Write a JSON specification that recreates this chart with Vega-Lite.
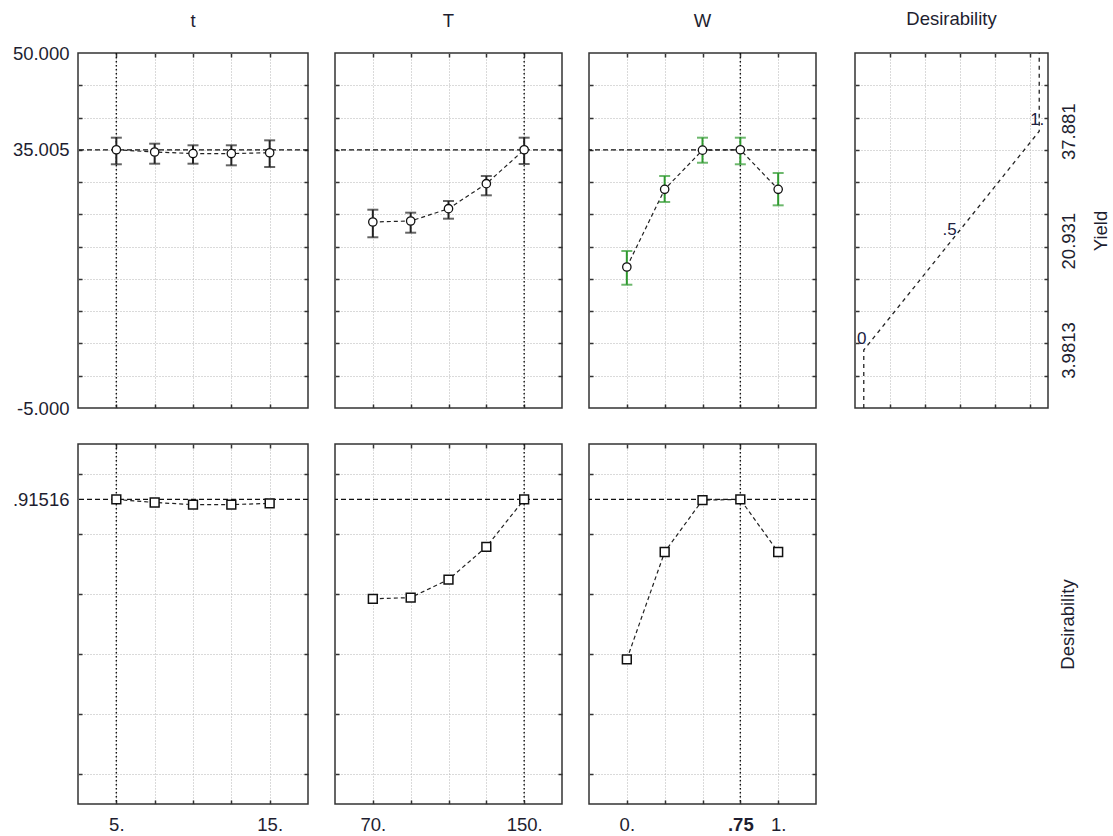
{
  "$schema": "https://vega.github.io/schema/vega-lite/v6.json",
  "padding": {"left": 11, "top": 9, "right": 5, "bottom": 5},
  "datasets": {
    "tdata": [
      {"level": 5, "yield": 35.005, "lo": 32.76, "hi": 36.88, "d": 0.9152},
      {"level": 7.5, "yield": 34.66, "lo": 32.85, "hi": 35.95, "d": 0.905},
      {"level": 10, "yield": 34.42, "lo": 32.85, "hi": 35.7, "d": 0.898},
      {"level": 12.5, "yield": 34.42, "lo": 32.6, "hi": 35.7, "d": 0.898},
      {"level": 15, "yield": 34.55, "lo": 32.34, "hi": 36.47, "d": 0.902}
    ],
    "Tdata": [
      {"level": 70, "yield": 23.82, "lo": 21.45, "hi": 25.72, "d": 0.584},
      {"level": 90, "yield": 23.97, "lo": 22.16, "hi": 25.26, "d": 0.588},
      {"level": 110, "yield": 25.88, "lo": 24.33, "hi": 27.07, "d": 0.648},
      {"level": 130, "yield": 29.75, "lo": 27.95, "hi": 30.94, "d": 0.757},
      {"level": 150, "yield": 35.005, "lo": 32.8, "hi": 36.88, "d": 0.9152}
    ],
    "Wdata": [
      {"level": 0, "yield": 16.85, "lo": 14.1, "hi": 19.32, "d": 0.382},
      {"level": 0.25, "yield": 28.88, "lo": 26.92, "hi": 30.94, "d": 0.74},
      {"level": 0.5, "yield": 34.95, "lo": 33.0, "hi": 36.88, "d": 0.913},
      {"level": 0.75, "yield": 35.005, "lo": 32.76, "hi": 36.88, "d": 0.9152},
      {"level": 1, "yield": 28.88, "lo": 26.4, "hi": 31.41, "d": 0.74}
    ],
    "dfun": [
      {"i": 1, "d": 0, "yield": -5},
      {"i": 2, "d": 0, "yield": 3.9813},
      {"i": 3, "d": 1, "yield": 37.881},
      {"i": 4, "d": 1, "yield": 50}
    ],
    "dlab": [
      {"d": 0, "yield": 3.9813, "label": "0"},
      {"d": 0.5, "yield": 20.931, "label": ".5"},
      {"d": 1, "yield": 37.881, "label": "1."}
    ]
  },
  "columns": 4,
  "align": "each",
  "spacing": {"row": 23, "column": 23},
  "concat": [
    {
      "title": {"text": "t", "offset": 14}, "width": 230, "height": 355,
      "resolve": {"axis": {"x": "independent", "y": "independent"}},
      "layer": [
        {"data": {"values": [{"yield": 35.005}]},
         "mark": {"type": "rule", "color": "#111", "strokeWidth": 1.2, "strokeDash": [5, 3]},
         "encoding": {"y": {"field": "yield", "type": "quantitative", "scale": {"domain": [-5, 50], "nice": false, "zero": false},
           "axis": {"orient": "left", "values": [0,5,10,15,20,25,30,35,40,45], "grid": true, "ticks": true, "tickSize": -4, "labels": false, "title": null}}}},
        {"data": {"values": [{"level": 5}]},
         "mark": {"type": "rule", "color": "#111", "strokeWidth": 1.4, "strokeDash": [1.5, 2.5]},
         "encoding": {"x": {"field": "level", "type": "quantitative", "scale": {"domain": [2.5, 17.5], "nice": false, "zero": false},
           "axis": {"orient": "bottom", "values": [5,7.5,10,12.5,15], "grid": true, "ticks": true, "tickSize": -4, "labels": false, "title": null}}}},
        {"data": {"name": "tdata"},
         "mark": {"type": "errorbar", "ticks": true, "size": 11, "thickness": 2, "color": "#222"},
         "encoding": {"x": {"field": "level", "type": "quantitative", "axis": null}, "y": {"field": "lo", "type": "quantitative", "axis": null}, "y2": {"field": "hi"}}},
        {"data": {"name": "tdata"},
         "mark": {"type": "line", "color": "#222", "strokeWidth": 1.2, "strokeDash": [4, 3]},
         "encoding": {
           "x": {"field": "level", "type": "quantitative", "axis": {"orient": "top", "values": [5,7.5,10,12.5,15], "grid": false, "ticks": true, "tickSize": -4, "labels": false, "title": null}},
           "y": {"field": "yield", "type": "quantitative", "axis": {"orient": "right", "values": [0,5,10,15,20,25,30,35,40,45], "grid": false, "ticks": true, "tickSize": -4, "labels": false, "title": null}}}},
        {"data": {"name": "tdata"},
         "mark": {"type": "point", "shape": "circle", "filled": true, "fill": "white", "stroke": "#111", "strokeWidth": 1.3, "size": 70, "opacity": 1},
         "encoding": {
           "x": {"field": "level", "type": "quantitative", "axis": null},
           "y": {"field": "yield", "type": "quantitative", "axis": {"orient": "left", "values": [-5, 35.005, 50], "grid": false, "ticks": false, "labels": true, "labelPadding": 9, "labelFlush": false, "labelOverlap": false, "labelExpr": "(datum.value < 0 ? '-' : '') + format(abs(datum.value), '.3f')", "title": null}}}}
      ]
    },
    {
      "title": {"text": "T", "offset": 22}, "width": 227, "height": 355,
      "resolve": {"axis": {"x": "independent", "y": "independent"}},
      "layer": [
        {"data": {"values": [{"yield": 35.005}]},
         "mark": {"type": "rule", "color": "#111", "strokeWidth": 1.2, "strokeDash": [5, 3]},
         "encoding": {"y": {"field": "yield", "type": "quantitative", "scale": {"domain": [-5, 50], "nice": false, "zero": false},
           "axis": {"orient": "left", "values": [0,5,10,15,20,25,30,35,40,45], "grid": true, "ticks": true, "tickSize": -4, "labels": false, "title": null}}}},
        {"data": {"values": [{"level": 150}]},
         "mark": {"type": "rule", "color": "#111", "strokeWidth": 1.4, "strokeDash": [1.5, 2.5]},
         "encoding": {"x": {"field": "level", "type": "quantitative", "scale": {"domain": [50, 170], "nice": false, "zero": false},
           "axis": {"orient": "bottom", "values": [70,90,110,130,150], "grid": true, "ticks": true, "tickSize": -4, "labels": false, "title": null}}}},
        {"data": {"name": "Tdata"},
         "mark": {"type": "errorbar", "ticks": true, "size": 11, "thickness": 2, "color": "#222"},
         "encoding": {"x": {"field": "level", "type": "quantitative", "axis": null}, "y": {"field": "lo", "type": "quantitative", "axis": null}, "y2": {"field": "hi"}}},
        {"data": {"name": "Tdata"},
         "mark": {"type": "line", "color": "#222", "strokeWidth": 1.2, "strokeDash": [4, 3]},
         "encoding": {
           "x": {"field": "level", "type": "quantitative", "axis": {"orient": "top", "values": [70,90,110,130,150], "grid": false, "ticks": true, "tickSize": -4, "labels": false, "title": null}},
           "y": {"field": "yield", "type": "quantitative", "axis": {"orient": "right", "values": [0,5,10,15,20,25,30,35,40,45], "grid": false, "ticks": true, "tickSize": -4, "labels": false, "title": null}}}},
        {"data": {"name": "Tdata"},
         "mark": {"type": "point", "shape": "circle", "filled": true, "fill": "white", "stroke": "#111", "strokeWidth": 1.3, "size": 70, "opacity": 1},
         "encoding": {
           "x": {"field": "level", "type": "quantitative", "axis": null},
           "y": {"field": "yield", "type": "quantitative", "axis": null}}}
      ]
    },
    {
      "title": {"text": "W", "offset": 22}, "width": 227, "height": 355,
      "resolve": {"axis": {"x": "independent", "y": "independent"}},
      "layer": [
        {"data": {"values": [{"yield": 35.005}]},
         "mark": {"type": "rule", "color": "#111", "strokeWidth": 1.2, "strokeDash": [5, 3]},
         "encoding": {"y": {"field": "yield", "type": "quantitative", "scale": {"domain": [-5, 50], "nice": false, "zero": false},
           "axis": {"orient": "left", "values": [0,5,10,15,20,25,30,35,40,45], "grid": true, "ticks": true, "tickSize": -4, "labels": false, "title": null}}}},
        {"data": {"values": [{"level": 0.75}]},
         "mark": {"type": "rule", "color": "#111", "strokeWidth": 1.4, "strokeDash": [1.5, 2.5]},
         "encoding": {"x": {"field": "level", "type": "quantitative", "scale": {"domain": [-0.25, 1.25], "nice": false, "zero": false},
           "axis": {"orient": "bottom", "values": [0,0.25,0.5,0.75,1], "grid": true, "ticks": true, "tickSize": -4, "labels": false, "title": null}}}},
        {"data": {"name": "Wdata"},
         "mark": {"type": "errorbar", "ticks": true, "size": 11, "thickness": 2, "color": "#2f9a2f"},
         "encoding": {"x": {"field": "level", "type": "quantitative", "axis": null}, "y": {"field": "lo", "type": "quantitative", "axis": null}, "y2": {"field": "hi"}}},
        {"data": {"name": "Wdata"},
         "mark": {"type": "line", "color": "#222", "strokeWidth": 1.2, "strokeDash": [4, 3]},
         "encoding": {
           "x": {"field": "level", "type": "quantitative", "axis": {"orient": "top", "values": [0,0.25,0.5,0.75,1], "grid": false, "ticks": true, "tickSize": -4, "labels": false, "title": null}},
           "y": {"field": "yield", "type": "quantitative", "axis": {"orient": "right", "values": [0,5,10,15,20,25,30,35,40,45], "grid": false, "ticks": true, "tickSize": -4, "labels": false, "title": null}}}},
        {"data": {"name": "Wdata"},
         "mark": {"type": "point", "shape": "circle", "filled": true, "fill": "white", "stroke": "#111", "strokeWidth": 1.3, "size": 70, "opacity": 1},
         "encoding": {
           "x": {"field": "level", "type": "quantitative", "axis": null},
           "y": {"field": "yield", "type": "quantitative", "axis": null}}}
      ]
    },
    {
      "title": {"text": "Desirability", "offset": 22}, "width": 193, "height": 355,
      "resolve": {"axis": {"x": "independent", "y": "independent"}},
      "layer": [
        {"data": {"name": "dfun"},
         "mark": {"type": "line", "color": "#222", "strokeWidth": 1.3, "strokeDash": [4, 4]},
         "encoding": {
           "x": {"field": "d", "type": "quantitative", "scale": {"domain": [-0.05, 1.05], "nice": false, "zero": false},
             "axis": {"orient": "bottom", "values": [0.15,0.35,0.55,0.75,0.95], "grid": true, "ticks": true, "tickSize": -4, "labels": false, "title": null}},
           "y": {"field": "yield", "type": "quantitative", "scale": {"domain": [-5, 50], "nice": false, "zero": false},
             "axis": {"orient": "left", "values": [0,5,10,15,20,25,30,35,40,45], "grid": true, "ticks": true, "tickSize": -4, "labels": false, "title": null, "minExtent": 13}},
           "order": {"field": "i", "type": "quantitative"}}},
        {"data": {"name": "dlab"},
         "mark": {"type": "text", "font": "Liberation Sans", "fontSize": 17, "color": "#202040", "align": "center", "baseline": "alphabetic", "dy": -6, "dx": -2},
         "encoding": {
           "x": {"field": "d", "type": "quantitative", "axis": {"orient": "top", "values": [0.15,0.35,0.55,0.75,0.95], "grid": false, "ticks": true, "tickSize": -4, "labels": false, "title": null}},
           "y": {"field": "yield", "type": "quantitative",
             "axis": {"orient": "right", "values": [3.9813, 20.931, 37.881], "grid": false, "ticks": false, "labels": true, "labelAngle": 270, "labelAlign": "center", "labelBaseline": "top", "labelPadding": 11, "labelFlush": false, "labelOverlap": false, "labelExpr": "datum.value < 10 ? format(datum.value, '.4f') : format(datum.value, '.3f')", "title": "Yield", "titleAngle": 270, "titleBaseline": "top", "titleAlign": "center", "titlePadding": 14}},
           "text": {"field": "label"}}},
        {"data": {"name": "dlab"},
         "mark": {"type": "point", "opacity": 0},
         "encoding": {
           "x": {"field": "d", "type": "quantitative", "axis": null},
           "y": {"field": "yield", "type": "quantitative", "axis": {"orient": "right", "values": [0,5,10,15,20,25,30,35,40,45], "grid": false, "ticks": true, "tickSize": -4, "labels": false, "title": null}}}}
      ]
    },
    {
      "width": 230, "height": 360,
      "resolve": {"axis": {"x": "independent", "y": "independent"}},
      "layer": [
        {"data": {"values": [{"d": 0.91516}]},
         "mark": {"type": "rule", "color": "#111", "strokeWidth": 1.2, "strokeDash": [5, 3]},
         "encoding": {"y": {"field": "d", "type": "quantitative", "scale": {"domain": [-0.1, 1.1], "nice": false, "zero": false},
           "axis": {"orient": "left", "values": [0,0.2,0.4,0.6,0.8,1], "grid": true, "ticks": true, "tickSize": -4, "labels": false, "title": null}}}},
        {"data": {"values": [{"level": 5}]},
         "mark": {"type": "rule", "color": "#111", "strokeWidth": 1.4, "strokeDash": [1.5, 2.5]},
         "encoding": {"x": {"field": "level", "type": "quantitative", "scale": {"domain": [2.5, 17.5], "nice": false, "zero": false},
           "axis": {"orient": "bottom", "values": [5,7.5,10,12.5,15], "grid": true, "ticks": true, "tickSize": -4, "labels": false, "title": null}}}},
        {"data": {"name": "tdata"},
         "mark": {"type": "line", "color": "#222", "strokeWidth": 1.2, "strokeDash": [4, 3]},
         "encoding": {
           "x": {"field": "level", "type": "quantitative", "axis": {"orient": "top", "values": [5,7.5,10,12.5,15], "grid": false, "ticks": true, "tickSize": -4, "labels": false, "title": null}},
           "y": {"field": "d", "type": "quantitative", "axis": {"orient": "right", "values": [0,0.2,0.4,0.6,0.8,1], "grid": false, "ticks": true, "tickSize": -4, "labels": false, "title": null}}}},
        {"data": {"name": "tdata"},
         "mark": {"type": "point", "shape": "square", "filled": true, "fill": "white", "stroke": "#111", "strokeWidth": 1.5, "size": 78, "opacity": 1},
         "encoding": {
           "x": {"field": "level", "type": "quantitative", "axis": {"orient": "bottom", "values": [5, 15], "grid": false, "ticks": false, "labels": true, "labelPadding": 11, "labelFlush": false, "labelOverlap": false, "labelExpr": "datum.value + '.'", "title": null}},
           "y": {"field": "d", "type": "quantitative", "axis": {"orient": "left", "values": [0.91516], "grid": false, "ticks": false, "labels": true, "labelPadding": 9, "labelFlush": false, "labelOverlap": false, "labelExpr": "'.91516'", "title": null}}}}
      ]
    },
    {
      "width": 227, "height": 360,
      "resolve": {"axis": {"x": "independent", "y": "independent"}},
      "layer": [
        {"data": {"values": [{"d": 0.91516}]},
         "mark": {"type": "rule", "color": "#111", "strokeWidth": 1.2, "strokeDash": [5, 3]},
         "encoding": {"y": {"field": "d", "type": "quantitative", "scale": {"domain": [-0.1, 1.1], "nice": false, "zero": false},
           "axis": {"orient": "left", "values": [0,0.2,0.4,0.6,0.8,1], "grid": true, "ticks": true, "tickSize": -4, "labels": false, "title": null}}}},
        {"data": {"values": [{"level": 150}]},
         "mark": {"type": "rule", "color": "#111", "strokeWidth": 1.4, "strokeDash": [1.5, 2.5]},
         "encoding": {"x": {"field": "level", "type": "quantitative", "scale": {"domain": [50, 170], "nice": false, "zero": false},
           "axis": {"orient": "bottom", "values": [70,90,110,130,150], "grid": true, "ticks": true, "tickSize": -4, "labels": false, "title": null}}}},
        {"data": {"name": "Tdata"},
         "mark": {"type": "line", "color": "#222", "strokeWidth": 1.2, "strokeDash": [4, 3]},
         "encoding": {
           "x": {"field": "level", "type": "quantitative", "axis": {"orient": "top", "values": [70,90,110,130,150], "grid": false, "ticks": true, "tickSize": -4, "labels": false, "title": null}},
           "y": {"field": "d", "type": "quantitative", "axis": {"orient": "right", "values": [0,0.2,0.4,0.6,0.8,1], "grid": false, "ticks": true, "tickSize": -4, "labels": false, "title": null}}}},
        {"data": {"name": "Tdata"},
         "mark": {"type": "point", "shape": "square", "filled": true, "fill": "white", "stroke": "#111", "strokeWidth": 1.5, "size": 78, "opacity": 1},
         "encoding": {
           "x": {"field": "level", "type": "quantitative", "axis": {"orient": "bottom", "values": [70, 150], "grid": false, "ticks": false, "labels": true, "labelPadding": 11, "labelFlush": false, "labelOverlap": false, "labelExpr": "datum.value + '.'", "title": null}},
           "y": {"field": "d", "type": "quantitative", "axis": null}}}
      ]
    },
    {
      "width": 227, "height": 360,
      "resolve": {"axis": {"x": "independent", "y": "independent"}},
      "layer": [
        {"data": {"values": [{"d": 0.91516}]},
         "mark": {"type": "rule", "color": "#111", "strokeWidth": 1.2, "strokeDash": [5, 3]},
         "encoding": {"y": {"field": "d", "type": "quantitative", "scale": {"domain": [-0.1, 1.1], "nice": false, "zero": false},
           "axis": {"orient": "left", "values": [0,0.2,0.4,0.6,0.8,1], "grid": true, "ticks": true, "tickSize": -4, "labels": false, "title": null}}}},
        {"data": {"values": [{"level": 0.75}]},
         "mark": {"type": "rule", "color": "#111", "strokeWidth": 1.4, "strokeDash": [1.5, 2.5]},
         "encoding": {"x": {"field": "level", "type": "quantitative", "scale": {"domain": [-0.25, 1.25], "nice": false, "zero": false},
           "axis": {"orient": "bottom", "values": [0,0.25,0.5,0.75,1], "grid": true, "ticks": true, "tickSize": -4, "labels": false, "title": null}}}},
        {"data": {"name": "Wdata"},
         "mark": {"type": "line", "color": "#222", "strokeWidth": 1.2, "strokeDash": [4, 3]},
         "encoding": {
           "x": {"field": "level", "type": "quantitative", "axis": {"orient": "top", "values": [0,0.25,0.5,0.75,1], "grid": false, "ticks": true, "tickSize": -4, "labels": false, "title": null}},
           "y": {"field": "d", "type": "quantitative", "axis": {"orient": "right", "values": [0,0.2,0.4,0.6,0.8,1], "grid": false, "ticks": true, "tickSize": -4, "labels": false, "title": null}}}},
        {"data": {"name": "Wdata"},
         "mark": {"type": "point", "shape": "square", "filled": true, "fill": "white", "stroke": "#111", "strokeWidth": 1.5, "size": 78, "opacity": 1},
         "encoding": {
           "x": {"field": "level", "type": "quantitative", "axis": {"orient": "bottom", "values": [0, 0.75, 1], "grid": false, "ticks": false, "labels": true, "labelPadding": 11, "labelFlush": false, "labelOverlap": false, "labelExpr": "datum.value == 0.75 ? '.75' : datum.value + '.'", "labelFontWeight": {"condition": {"test": "datum.value == 0.75", "value": "bold"}, "value": "normal"}, "title": null}},
           "y": {"field": "d", "type": "quantitative", "axis": null}}}
      ]
    },
    {
      "width": 193, "height": 360,
      "view": {"stroke": null},
      "data": {"values": [{"d": 0.5}]},
      "mark": {"type": "point", "opacity": 0},
      "encoding": {
        "y": {"field": "d", "type": "quantitative", "scale": {"domain": [-0.1, 1.1], "nice": false, "zero": false},
          "axis": {"orient": "right", "labels": false, "ticks": false, "grid": false, "title": "Desirability", "titleAngle": 270, "titleBaseline": "top", "titleAlign": "center", "titlePadding": 10.5}}
      }
    }
  ],
  "config": {
    "font": "Liberation Sans",
    "view": {"stroke": "#333", "strokeWidth": 1.5},
    "axis": {"domain": false, "minExtent": 0, "labelFont": "Liberation Sans", "labelFontSize": 18.5, "labelColor": "#1e1e30", "titleFont": "Liberation Sans", "titleFontSize": 18.5, "titleFontWeight": "normal", "titleColor": "#1e1e30", "gridColor": "#b4b4b4", "gridDash": [1, 2], "gridWidth": 1, "tickColor": "#333", "tickWidth": 1.5},
    "title": {"font": "Liberation Sans", "fontSize": 18.5, "fontWeight": "normal", "color": "#1e1e30", "frame": "group", "anchor": "middle", "baseline": "alphabetic"}
  }
}
